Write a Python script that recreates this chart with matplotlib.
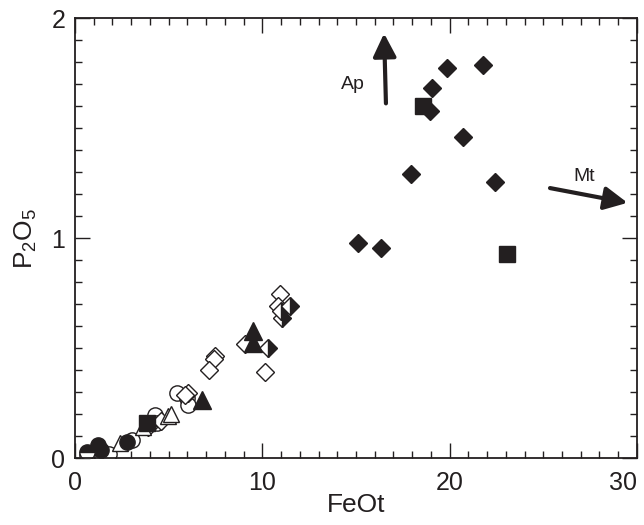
import numpy as np
import matplotlib
matplotlib.use('Agg')
import matplotlib.pyplot as plt

plt.rcParams['font.family'] = ['Liberation Sans', 'DejaVu Sans']
plt.rcParams['mathtext.default'] = 'regular'
ink = '#231f20'

# filled diamonds (high FeOt group)
fd_x = [19.86, 21.8, 19.04, 18.95, 20.7, 17.96, 22.4, 15.1, 16.35]
fd_y = [1.772, 1.787, 1.68, 1.578, 1.457, 1.292, 1.254, 0.979, 0.956]
# filled squares
fs_x = [18.56, 23.06, 3.83]
fs_y = [1.60, 0.927, 0.158]
# open diamonds
od_x = [10.95, 10.86, 9.08, 7.47, 7.42, 7.17, 10.14, 6.03, 5.87, 4.6, 3.9]
od_y = [0.744, 0.691, 0.519, 0.463, 0.451, 0.399, 0.39, 0.297, 0.288, 0.17, 0.14]
# half filled diamonds
hd_x = [11.48, 11.03, 10.32, 11.0]
hd_y = [0.691, 0.638, 0.498, 0.67]
# filled triangles
ft_x = [9.52, 9.52, 6.76]
ft_y = [0.577, 0.524, 0.265]
# open circles
oc_x = [5.43, 5.96, 6.05, 4.27, 4.36, 3.03, 1.33, 0.62, 1.8]
oc_y = [0.295, 0.272, 0.242, 0.196, 0.158, 0.082, 0.021, 0.015, 0.02]
# open triangles
ot_x = [4.98, 3.65, 2.4, 5.1]
ot_y = [0.189, 0.143, 0.067, 0.2]
# filled circles
fc_x = [2.76, 1.25, 1.4]
fc_y = [0.074, 0.059, 0.035]
# half filled circles
hc_x = [0.62]
hc_y = [0.029]

fig = plt.figure(figsize=(6.44, 5.25), dpi=100)
ax = fig.add_axes([0.1165, 0.1276, 0.8725, 0.8381])

kw = dict(linestyle='none', color=ink, markeredgewidth=1.0)
ax.plot(oc_x, oc_y, 'o', ms=11, mfc='white', mec=ink, **kw)
ax.plot(od_x, od_y, 'D', ms=9, mfc='white', mec=ink, **kw)
ax.plot(ot_x, ot_y, '^', ms=11, mfc='white', mec=ink, **kw)
ax.plot(fc_x, fc_y, 'o', ms=11, mfc=ink, mec=ink, **kw)
ax.plot(hc_x, hc_y, 'o', ms=11, mfc=ink, mfcalt='white', mec=ink, fillstyle='top', **kw)
ax.plot(hd_x, hd_y, 'D', ms=9, mfc=ink, mfcalt='white', mec=ink, fillstyle='right', **kw)
ax.plot(ft_x, ft_y, '^', ms=12.5, mfc=ink, mec=ink, **kw)
ax.plot(fd_x, fd_y, 'D', ms=9.5, mfc=ink, mec=ink, **kw)
ax.plot(fs_x, fs_y, 's', ms=12, mfc=ink, mec=ink, **kw)

# Ap and Mt vectors
arr = dict(arrowstyle='-|>,head_length=1.4,head_width=0.7', color=ink, lw=3, shrinkA=0, shrinkB=0)
ax.annotate('', xy=(16.5, 1.93), xytext=(16.6, 1.612), arrowprops=arr)
ax.annotate('', xy=(29.5, 1.16), xytext=(25.36, 1.227), arrowprops=arr)
ax.text(14.85, 1.70, 'Ap', fontsize=14, color=ink, ha='center', va='center')
ax.text(27.2, 1.28, 'Mt', fontsize=14, color=ink, ha='center', va='center')

ax.set_xlim(0, 30)
ax.set_ylim(0, 2)
ax.set_xticks([0, 10, 20, 30])
ax.set_yticks([0, 1, 2])
ax.set_xticks(np.arange(0, 31, 1), minor=True)
ax.set_yticks(np.arange(0, 2.01, 0.1), minor=True)
ax.tick_params(which='both', direction='in', top=True, right=True, color=ink, width=1.0,
               labelsize=18, labelcolor=ink)
ax.tick_params(axis='x', pad=9)
ax.tick_params(axis='y', pad=7)
ax.tick_params(which='major', length=11)
ax.tick_params(which='minor', length=5)
ax.get_xticklabels()[-1].set_horizontalalignment('right')
for s in ax.spines.values():
    s.set_color(ink)
    s.set_linewidth(1.3)

ax.set_xlabel('FeOt', fontsize=19, color=ink, labelpad=-1)
ax.set_ylabel('P$_2$O$_5$', fontsize=19, color=ink, labelpad=9)

fig.savefig('out.png', dpi=100)
